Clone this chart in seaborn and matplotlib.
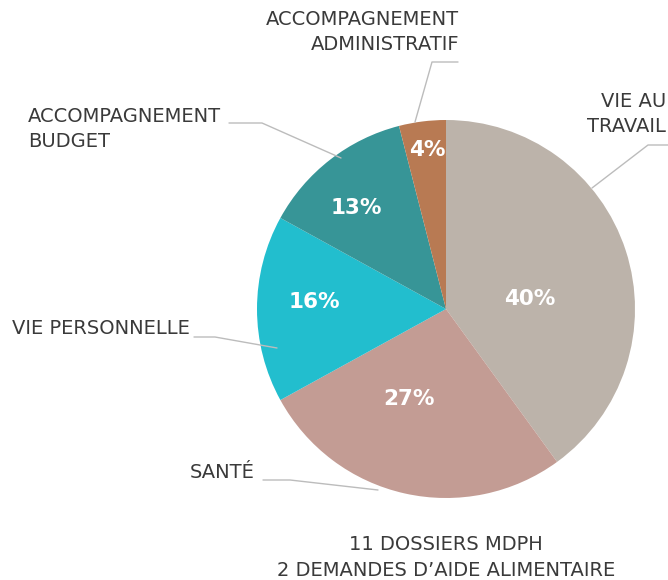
import matplotlib
matplotlib.use("Agg")
import matplotlib.pyplot as plt
import seaborn as sns

# slice data, clockwise from 12 o'clock
categories = ["VIE AU\nTRAVAIL", "SANTÉ", "VIE PERSONNELLE",
              "ACCOMPAGNEMENT\nBUDGET", "ACCOMPAGNEMENT\nADMINISTRATIF"]
shares = [40, 27, 16, 13, 4]
colors = ["#BCB3AA", "#C39C94", "#22BECE", "#379597", "#B87A53"]
footnotes = ["11 DOSSIERS MDPH", "2 DEMANDES D\u2019AIDE ALIMENTAIRE"]

sns.set_theme(style="white")
plt.rcParams['font.family'] = ['DejaVu Sans']

W, H = 668, 580
fig = plt.figure(figsize=(W / 100, H / 100), dpi=100)

# pie drawn in an equal-aspect axes placed over its pixel box
cx, cy, r = 446, 309, 189
pax = fig.add_axes([(cx - r) / W, 1 - (cy + r) / H, 2 * r / W, 2 * r / H])
pax.pie(shares, colors=colors, startangle=90, counterclock=False,
        wedgeprops=dict(linewidth=0))
pax.set_xlim(-1, 1)
pax.set_ylim(-1, 1)
pax.set_aspect("equal")
pax.axis("off")

# overlay axes in pixel coordinates for labels and leader lines
ax = fig.add_axes([0, 0, 1, 1])
ax.set_xlim(0, W)
ax.set_ylim(H, 0)
ax.axis("off")
ax.patch.set_alpha(0)
ax.set_zorder(3)

text_color = "#3a3a3a"
line_color = "#bcbcbc"

# percent labels inside slices
pct_pos = [(530, 299), (409, 399), (314, 302), (356, 208), (427, 150)]
for v, (x, y) in zip(shares, pct_pos):
    ax.text(x, y, f"{v}%", color="white", fontsize=15.5, fontweight="bold",
            ha="center", va="center")

# leader lines
leaders = [
    [(592, 188), (648, 145), (668, 145)],
    [(378, 490), (290, 480), (263, 480)],
    [(277, 348), (215, 337), (194, 337)],
    [(341, 158), (262, 123), (229, 123)],
    [(415, 122), (432, 62), (458, 62)],
]
for pts in leaders:
    xs, ys = zip(*pts)
    ax.plot(xs, ys, color=line_color, lw=1)

# category labels
lbl = dict(color=text_color, fontsize=14, linespacing=1.35)
ax.text(666, 114, categories[0], ha="right", va="center", multialignment="right", **lbl)
ax.text(255, 472, categories[1], ha="right", va="center", **lbl)
ax.text(190, 329, categories[2], ha="right", va="center", **lbl)
ax.text(28, 129, categories[3], ha="left", va="center", **lbl)
ax.text(459, 32, categories[4], ha="right", va="center", multialignment="right", **lbl)

ax.text(446, 545, footnotes[0], ha="center", va="center", **lbl)
ax.text(446, 571, footnotes[1], ha="center", va="center", **lbl)

fig.savefig("out.png", dpi=100, facecolor="white")
